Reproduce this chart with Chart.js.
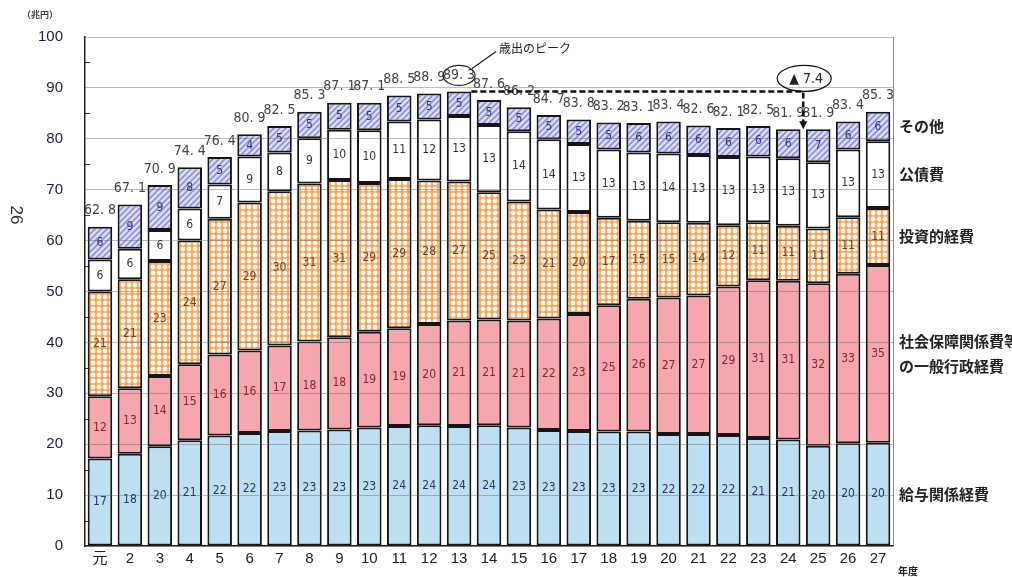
<!DOCTYPE html>
<html>
<head>
<meta charset="utf-8">
<script src="https://cdn.jsdelivr.net/npm/chart.js@4.4.1/dist/chart.umd.min.js"></script>
<style>
html, body { margin: 0; padding: 0; background: #fff; }
#wrap { width: 1012px; height: 577px; }
</style>
</head>
<body>
<div id="wrap"><canvas id="chart" width="1012" height="577"></canvas></div>
<script>
// 年度
var years = ['元','2','3','4','5','6','7','8','9','10','11','12','13','14','15','16','17','18','19','20','21','22','23','24','25','26','27'];
// 歳出合計（兆円）
var totals = [62.8,67.1,70.9,74.4,76.4,80.9,82.5,85.3,87.1,87.1,88.5,88.9,89.3,87.6,86.2,84.7,83.8,83.2,83.1,83.4,82.6,82.1,82.5,81.9,81.9,83.4,85.3];
// 給与関係経費
var kyuyo = [17.2,18.1,19.6,20.8,21.7,22.2,22.6,22.7,22.9,23.3,23.6,23.7,23.6,23.7,23.3,22.8,22.6,22.5,22.5,22.0,22.0,21.8,21.2,20.9,19.7,20.2,20.3];
// 社会保障関係費等の一般行政経費
var ippan = [12.2,12.9,13.8,14.9,15.9,16.2,16.8,17.5,18.1,18.8,19.2,19.9,20.7,20.8,21.0,21.9,23.0,24.8,26.1,26.8,27.2,29.2,31.0,31.2,31.9,33.3,34.9];
// 投資的経費
var toshi = [20.6,21.4,22.6,24.3,26.7,29.1,30.3,31.0,30.9,29.2,29.3,28.2,27.3,25.0,23.4,21.4,20.0,17.2,15.3,14.8,14.3,12.0,11.4,10.8,10.8,11.1,11.2];
// 公債費
var kousai = [6.3,6.0,6.1,6.3,6.7,9.0,7.6,8.9,9.9,10.4,11.3,12.0,12.9,13.2,13.8,13.8,13.4,13.4,13.4,13.5,13.3,13.4,12.9,13.3,13.0,13.3,13.1];
// その他
var sonota = [6.4,8.7,8.8,8.1,5.4,4.4,5.2,5.2,5.3,5.4,5.1,5.1,4.8,4.9,4.7,4.8,4.8,5.3,5.8,6.3,5.8,5.7,6.0,5.7,6.5,5.5,5.8];
var yTicks = [0,10,20,30,40,50,60,70,80,90,100];

var seriesNames = ['給与関係経費', '社会保障関係費等の一般行政経費', '投資的経費', '公債費', 'その他'];
var legendLines = [['給与関係経費'], ['社会保障関係費等', 'の一般行政経費'], ['投資的経費'], ['公債費'], ['その他']];
var textColors = ['#2b3470', '#8a2630', '#6e4326', '#333333', '#34347e'];
var narrow = '"Liberation Sans Narrow", "DejaVu Sans Condensed", "Liberation Sans", sans-serif';

function dotPattern() {
  var c = document.createElement('canvas');
  c.width = 6; c.height = 6;
  var g = c.getContext('2d');
  g.fillStyle = '#f7a660';
  g.fillRect(0, 0, 6, 6);
  g.fillStyle = '#fff6ec';
  g.beginPath();
  g.arc(3, 3, 2.4, 0, Math.PI * 2);
  g.fill();
  return g.createPattern(c, 'repeat');
}

function hatchPattern() {
  var c = document.createElement('canvas');
  c.width = 6; c.height = 6;
  var g = c.getContext('2d');
  g.fillStyle = '#dcdcf6';
  g.fillRect(0, 0, 6, 6);
  g.strokeStyle = '#8f8fe0';
  g.lineWidth = 1.6;
  g.beginPath();
  g.moveTo(-1, 7); g.lineTo(7, -1);
  g.moveTo(-1, 1); g.lineTo(1, -1);
  g.moveTo(5, 7); g.lineTo(7, 5);
  g.stroke();
  return g.createPattern(c, 'repeat');
}

var fills = ['#bcdff2', '#f5a6ae', dotPattern(), '#ffffff', hatchPattern()];
var values = [kyuyo, ippan, toshi, kousai, sonota];

var datasets = values.map(function(v, i) {
  return {
    label: seriesNames[i],
    data: v,
    backgroundColor: fills[i],
    borderColor: '#151515',
    borderWidth: 2,
    borderSkipped: false,
    barPercentage: 0.82,
    categoryPercentage: 1
  };
});

var labelPlugin = {
  id: 'labels',
  afterDraw: function(chart) {
    var ctx = chart.ctx;
    var area = chart.chartArea;
    var xs = chart.scales.x, ys = chart.scales.y;
    ctx.save();

    // right frame
    ctx.strokeStyle = '#8a8a8a';
    ctx.lineWidth = 1;
    ctx.beginPath();
    ctx.moveTo(area.right + 0.5, area.top);
    ctx.lineTo(area.right + 0.5, area.bottom);
    ctx.stroke();

    // minor ticks
    ctx.strokeStyle = '#333';
    ctx.beginPath();
    for (var m = 5; m < 100; m += 10) {
      var my = Math.round(ys.getPixelForValue(m)) + 0.5;
      ctx.moveTo(area.left, my);
      ctx.lineTo(area.left + 5, my);
    }
    ctx.stroke();

    // segment values
    ctx.textAlign = 'center';
    ctx.textBaseline = 'middle';
    ctx.font = '12px ' + narrow;
    chart.data.datasets.forEach(function(ds, di) {
      var meta = chart.getDatasetMeta(di);
      ctx.fillStyle = textColors[di];
      meta.data.forEach(function(bar, i) {
        ctx.fillText(String(Math.round(ds.data[i])), bar.x, (bar.y + bar.base) / 2);
      });
    });

    // totals
    var topMeta = chart.getDatasetMeta(chart.data.datasets.length - 1);
    ctx.font = '14px ' + narrow;
    ctx.fillStyle = '#444';
    topMeta.data.forEach(function(bar, i) {
      ctx.fillText(totals[i].toFixed(1).replace('.', '. '), bar.x, bar.y - 16);
    });

    // right-hand series names
    var last = years.length - 1;
    ctx.textAlign = 'left';
    ctx.fillStyle = '#222';
    ctx.font = 'bold 15px "Noto Sans CJK JP", sans-serif';
    chart.data.datasets.forEach(function(ds, di) {
      var bar = chart.getDatasetMeta(di).data[last];
      var cy = (bar.y + bar.base) / 2;
      var lines = legendLines[di];
      lines.forEach(function(t, k) {
        ctx.fillText(t, area.right + 6, cy + (k - (lines.length - 1) / 2) * 25);
      });
    });

    // peak annotation
    var pi = totals.indexOf(Math.max.apply(null, totals));
    var pBar = topMeta.data[pi];
    var px = pBar.x, py = pBar.y - 16;
    ctx.strokeStyle = '#222';
    ctx.lineWidth = 1.2;
    ctx.beginPath();
    ctx.ellipse(px, py, 16, 10, 0, 0, Math.PI * 2);
    ctx.stroke();
    ctx.beginPath();
    ctx.moveTo(px + 13, py - 7);
    ctx.lineTo(px + 37, py - 24);
    ctx.stroke();
    ctx.font = '12px "Noto Sans CJK JP", sans-serif';
    ctx.fillStyle = '#222';
    ctx.fillText('歳出のピーク', px + 40, py - 27);

    // dashed drop line
    var yPeak = ys.getPixelForValue(totals[pi]);
    var lowI = 24;
    var xDrop = (xs.getPixelForValue(lowI - 1) + xs.getPixelForValue(lowI)) / 2;
    var yLow = ys.getPixelForValue(totals[lowI]);
    ctx.setLineDash([6, 3]);
    ctx.lineWidth = 2.5;
    ctx.strokeStyle = '#111';
    ctx.beginPath();
    ctx.moveTo(pBar.x + pBar.width / 2, yPeak);
    ctx.lineTo(xDrop, yPeak);
    ctx.lineTo(xDrop, yLow - 6);
    ctx.stroke();
    ctx.setLineDash([]);
    ctx.fillStyle = '#111';
    ctx.beginPath();
    ctx.moveTo(xDrop - 4, yLow - 8);
    ctx.lineTo(xDrop + 4, yLow - 8);
    ctx.lineTo(xDrop, yLow);
    ctx.closePath();
    ctx.fill();

    // decrease bubble
    var diff = (totals[pi] - totals[lowI]).toFixed(1);
    ctx.lineWidth = 1.2;
    ctx.beginPath();
    ctx.ellipse(xDrop + 1, yPeak - 13, 27, 13, 0, 0, Math.PI * 2);
    ctx.stroke();
    ctx.textAlign = 'center';
    ctx.font = '14px ' + narrow;
    ctx.fillStyle = '#222';
    ctx.fillText('▲ ' + diff, xDrop + 3, yPeak - 12);

    // unit, fiscal-year suffix, page number
    ctx.font = 'bold 9px "Noto Sans CJK JP", sans-serif';
    ctx.fillStyle = '#444';
    ctx.fillText('（兆円）', 40, 15);
    ctx.textAlign = 'left';
    ctx.font = 'bold 10px "Noto Sans CJK JP", sans-serif';
    ctx.fillStyle = '#222';
    ctx.fillText('年度', area.right + 5, 571);
    ctx.translate(16, 215);
    ctx.rotate(Math.PI / 2);
    ctx.textAlign = 'center';
    ctx.font = '17px "Liberation Sans", sans-serif';
    ctx.fillStyle = '#333';
    ctx.fillText('26', 0, 0);
    ctx.restore();
  }
};

new Chart(document.getElementById('chart').getContext('2d'), {
  type: 'bar',
  data: { labels: years, datasets: datasets },
  options: {
    responsive: false,
    animation: false,
    devicePixelRatio: 1,
    layout: { padding: { top: 37, right: 119, left: 0, bottom: 0 } },
    plugins: { legend: { display: false }, tooltip: { enabled: false } },
    scales: {
      x: {
        stacked: true,
        grid: { display: false, drawTicks: false },
        border: { color: '#222', width: 1.5 },
        ticks: { color: '#222', font: { size: 15, family: '"Liberation Sans", "Noto Sans CJK JP", sans-serif' }, padding: 4, maxRotation: 0, autoSkip: false },
        afterFit: function(s) { s.height = 28; }
      },
      y: {
        stacked: true,
        min: 0,
        max: 100,
        afterBuildTicks: function(s) { s.ticks = yTicks.map(function(v) { return { value: v }; }); },
        grid: { color: 'rgba(90,90,90,0.4)', drawTicks: false, z: 1 },
        border: { color: '#222', width: 1.5, z: 2 },
        ticks: { color: '#1d1d4a', font: { size: 15, family: '"Liberation Sans", sans-serif' }, padding: 22 },
        afterFit: function(s) { s.width = 85; }
      }
    }
  },
  plugins: [labelPlugin]
});
</script>
</body>
</html>
